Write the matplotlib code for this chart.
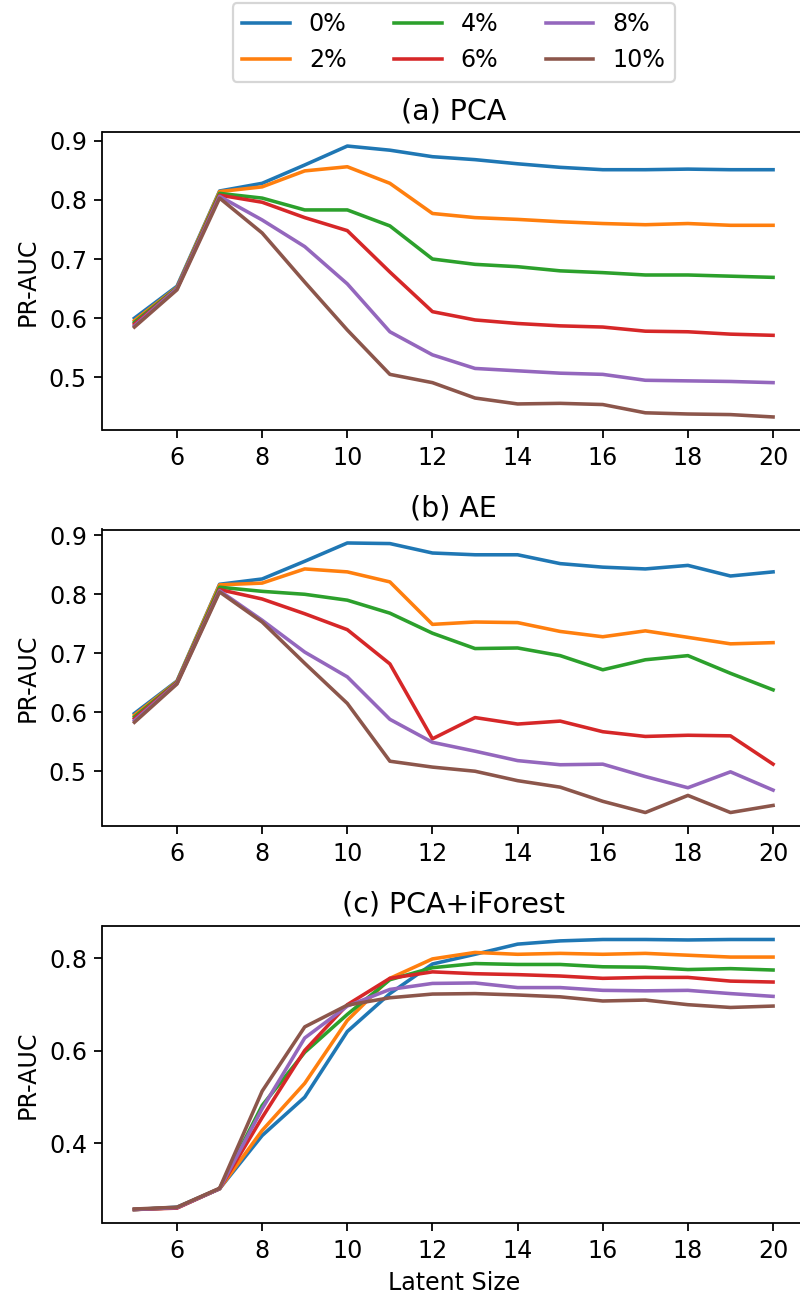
import numpy as np
import matplotlib
matplotlib.use('Agg')
import matplotlib.pyplot as plt

plt.rcParams['font.size'] = 10.7
plt.rcParams['lines.linewidth'] = 1.6

# 横轴: 潜变量维度
latent_size = list(range(5, 21))
labels = ['0%', '2%', '4%', '6%', '8%', '10%']
titles = ['(a) PCA', '(b) AE', '(c) PCA+iForest']

# (a) PCA
pca_0 = [0.600, 0.654, 0.815, 0.828, 0.859, 0.891, 0.884, 0.873, 0.868, 0.861, 0.855, 0.851, 0.851, 0.852, 0.851, 0.851]
pca_2 = [0.596, 0.652, 0.814, 0.822, 0.849, 0.856, 0.828, 0.777, 0.770, 0.767, 0.763, 0.760, 0.758, 0.760, 0.757, 0.757]
pca_4 = [0.593, 0.651, 0.811, 0.803, 0.783, 0.783, 0.756, 0.700, 0.691, 0.687, 0.680, 0.677, 0.673, 0.673, 0.671, 0.669]
pca_6 = [0.590, 0.650, 0.808, 0.796, 0.770, 0.748, 0.678, 0.611, 0.597, 0.591, 0.587, 0.585, 0.578, 0.577, 0.573, 0.571]
pca_8 = [0.587, 0.650, 0.806, 0.766, 0.721, 0.658, 0.577, 0.538, 0.515, 0.511, 0.507, 0.505, 0.495, 0.494, 0.493, 0.491]
pca_10 = [0.585, 0.648, 0.803, 0.744, 0.661, 0.580, 0.505, 0.491, 0.465, 0.455, 0.456, 0.454, 0.440, 0.438, 0.437, 0.433]

# (b) AE
ae_0 = [0.598, 0.653, 0.817, 0.826, 0.856, 0.887, 0.886, 0.870, 0.867, 0.867, 0.852, 0.846, 0.843, 0.849, 0.831, 0.838]
ae_2 = [0.595, 0.652, 0.816, 0.819, 0.843, 0.838, 0.821, 0.749, 0.753, 0.752, 0.737, 0.728, 0.738, 0.727, 0.716, 0.718]
ae_4 = [0.592, 0.651, 0.812, 0.805, 0.800, 0.790, 0.768, 0.734, 0.708, 0.709, 0.696, 0.672, 0.689, 0.696, 0.666, 0.638]
ae_6 = [0.589, 0.650, 0.808, 0.792, 0.767, 0.740, 0.682, 0.555, 0.591, 0.580, 0.585, 0.567, 0.559, 0.561, 0.560, 0.512]
ae_8 = [0.586, 0.649, 0.806, 0.756, 0.702, 0.660, 0.588, 0.549, 0.534, 0.518, 0.511, 0.512, 0.491, 0.472, 0.499, 0.468]
ae_10 = [0.583, 0.648, 0.804, 0.753, 0.683, 0.615, 0.517, 0.507, 0.500, 0.484, 0.473, 0.449, 0.430, 0.459, 0.430, 0.442]

# (c) PCA+iForest
pif_0 = [0.257, 0.262, 0.302, 0.417, 0.500, 0.642, 0.724, 0.788, 0.809, 0.831, 0.838, 0.841, 0.841, 0.840, 0.841, 0.841]
pif_2 = [0.257, 0.261, 0.302, 0.428, 0.530, 0.666, 0.757, 0.799, 0.813, 0.809, 0.811, 0.809, 0.811, 0.807, 0.803, 0.803]
pif_4 = [0.257, 0.261, 0.302, 0.482, 0.597, 0.679, 0.754, 0.780, 0.789, 0.787, 0.787, 0.782, 0.781, 0.776, 0.778, 0.775]
pif_6 = [0.257, 0.260, 0.302, 0.456, 0.601, 0.700, 0.757, 0.771, 0.767, 0.765, 0.762, 0.757, 0.759, 0.759, 0.751, 0.749]
pif_8 = [0.257, 0.261, 0.302, 0.475, 0.628, 0.697, 0.733, 0.746, 0.747, 0.737, 0.737, 0.731, 0.730, 0.731, 0.724, 0.718]
pif_10 = [0.258, 0.262, 0.303, 0.513, 0.652, 0.699, 0.715, 0.723, 0.724, 0.721, 0.717, 0.708, 0.710, 0.700, 0.694, 0.697]

groups = [
    [pca_0, pca_2, pca_4, pca_6, pca_8, pca_10],
    [ae_0, ae_2, ae_4, ae_6, ae_8, ae_10],
    [pif_0, pif_2, pif_4, pif_6, pif_8, pif_10],
]

fig = plt.figure(figsize=(5, 1295 / 160), dpi=160)
# 手动设置子图位置 (右边框略超出画布, 与原图一致)
left = 102.5 / 800
width = 702.5 / 800
bottoms = [1 - 430.5 / 1295, 1 - 826 / 1295, 1 - 1223 / 1295]
heights = [298 / 1295, 296.5 / 1295, 297 / 1295]

axes = []
for i in range(3):
    ax = fig.add_axes([left, bottoms[i], width, heights[i]])
    for series, lab in zip(groups[i], labels):
        ax.plot(latent_size, series, label=lab)
    ax.set_title(titles[i], fontsize=12.8)
    ax.set_ylabel('PR-AUC')
    axes.append(ax)

axes[2].set_xlabel('Latent Size')
axes[0].legend(loc='lower center', bbox_to_anchor=(0.5, 1.17), ncol=3, borderaxespad=0)

plt.savefig('out.png', dpi=160)
